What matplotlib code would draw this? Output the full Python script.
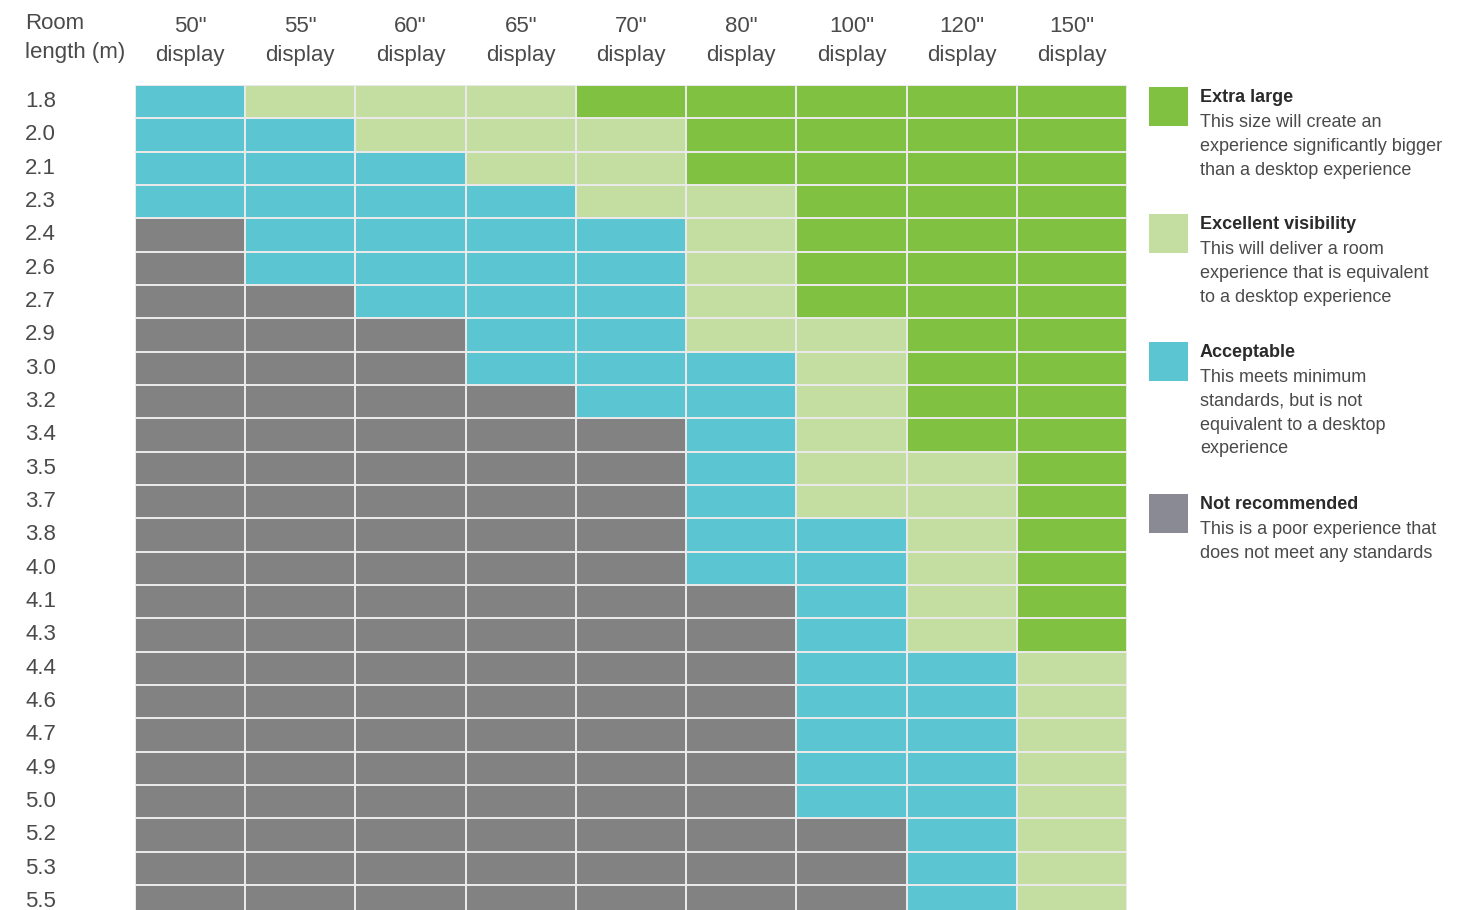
import numpy as np
import matplotlib
matplotlib.use("Agg")
import matplotlib.pyplot as plt
from matplotlib.colors import ListedColormap
from matplotlib.patches import Rectangle
from matplotlib.transforms import ScaledTranslation

# ---------------------------------------------------------------------
# Data: 0 = not recommended, 1 = acceptable, 2 = excellent, 3 = extra large
# ---------------------------------------------------------------------
room_lengths = ["1.8", "2.0", "2.1", "2.3", "2.4", "2.6", "2.7", "2.9", "3.0",
                "3.2", "3.4", "3.5", "3.7", "3.8", "4.0", "4.1", "4.3", "4.4",
                "4.6", "4.7", "4.9", "5.0", "5.2", "5.3", "5.5"]
displays = ['50"', '55"', '60"', '65"', '70"', '80"', '100"', '120"', '150"']

ratings = [
    [1, 2, 2, 2, 3, 3, 3, 3, 3],
    [1, 1, 2, 2, 2, 3, 3, 3, 3],
    [1, 1, 1, 2, 2, 3, 3, 3, 3],
    [1, 1, 1, 1, 2, 2, 3, 3, 3],
    [0, 1, 1, 1, 1, 2, 3, 3, 3],
    [0, 1, 1, 1, 1, 2, 3, 3, 3],
    [0, 0, 1, 1, 1, 2, 3, 3, 3],
    [0, 0, 0, 1, 1, 2, 2, 3, 3],
    [0, 0, 0, 1, 1, 1, 2, 3, 3],
    [0, 0, 0, 0, 1, 1, 2, 3, 3],
    [0, 0, 0, 0, 0, 1, 2, 3, 3],
    [0, 0, 0, 0, 0, 1, 2, 2, 3],
    [0, 0, 0, 0, 0, 1, 2, 2, 3],
    [0, 0, 0, 0, 0, 1, 1, 2, 3],
    [0, 0, 0, 0, 0, 1, 1, 2, 3],
    [0, 0, 0, 0, 0, 0, 1, 2, 3],
    [0, 0, 0, 0, 0, 0, 1, 2, 3],
    [0, 0, 0, 0, 0, 0, 1, 1, 2],
    [0, 0, 0, 0, 0, 0, 1, 1, 2],
    [0, 0, 0, 0, 0, 0, 1, 1, 2],
    [0, 0, 0, 0, 0, 0, 1, 1, 2],
    [0, 0, 0, 0, 0, 0, 1, 1, 2],
    [0, 0, 0, 0, 0, 0, 0, 1, 2],
    [0, 0, 0, 0, 0, 0, 0, 1, 2],
    [0, 0, 0, 0, 0, 0, 0, 1, 2],
]

legend_titles = ["Extra large", "Excellent visibility", "Acceptable", "Not recommended"]
legend_texts = [
    "This size will create an\nexperience significantly bigger\nthan a desktop experience",
    "This will deliver a room\nexperience that is equivalent\nto a desktop experience",
    "This meets minimum\nstandards, but is not\nequivalent to a desktop\nexperience",
    "This is a poor experience that\ndoes not meet any standards",
]

# ---------------------------------------------------------------------
# Style
# ---------------------------------------------------------------------
CELL_COLORS = ["#828282", "#5bc5d2", "#c3dea0", "#80c141"]
SWATCH_COLORS = ["#80c141", "#c3dea0", "#5bc5d2", "#8a8a94"]
TEXT = "#4a4a4a"
W, H = 1468, 910

plt.rcParams["font.family"] = ["Liberation Sans", "DejaVu Sans"]

fig = plt.figure(figsize=(W / 100, H / 100), dpi=100)


def fx(px):
    return px / W


def fy(py):
    return 1 - py / H


# grid axes: left 135px, right 1127px, top 85px, rows ~33.3px tall
n_rows, n_cols = len(room_lengths), len(displays)
row_h = 33.33
grid_left, grid_right, grid_top = 135, 1127, 85
ax = fig.add_axes([fx(grid_left), fy(grid_top + n_rows * row_h),
                   fx(grid_right - grid_left), n_rows * row_h / H])

data = np.array(ratings)
cmap = ListedColormap(CELL_COLORS)
ax.pcolormesh(np.arange(n_cols + 1), np.arange(n_rows + 1), data, cmap=cmap,
              vmin=-0.5, vmax=3.5, edgecolors="#e9e9e9", linewidth=1.1)
ax.set_xlim(0, n_cols)
ax.set_ylim(n_rows, 0)
for s in ax.spines.values():
    s.set_visible(False)

ax.set_yticks(np.arange(n_rows) + 0.5)
ax.set_yticklabels(room_lengths, ha="left", fontsize=16, color=TEXT)
ax.tick_params(axis="y", length=0, pad=79)
shift_up = ScaledTranslation(0, 2.5 / 100, fig.dpi_scale_trans)
for lab in ax.get_yticklabels():
    lab.set_transform(lab.get_transform() + shift_up)

ax.xaxis.tick_top()
ax.set_xticks(np.arange(n_cols) + 0.5)
ax.set_xticklabels([f"{d}\ndisplay" for d in displays], fontsize=16,
                   color=TEXT, linespacing=1.45)
ax.tick_params(axis="x", length=0, pad=14)

fig.text(fx(25), fy(13), "Room\nlength (m)", ha="left", va="top",
         fontsize=16, color=TEXT, linespacing=1.5)

# legend
swatch_tops = [87, 214, 342, 494]
for top, col, title, body in zip(swatch_tops, SWATCH_COLORS, legend_titles, legend_texts):
    fig.patches.append(Rectangle((fx(1149), fy(top + 39)), fx(39), 39 / H,
                                 transform=fig.transFigure, facecolor=col,
                                 edgecolor="none"))
    fig.text(fx(1200), fy(top + 2), title, ha="left", va="top", fontsize=13,
             fontweight="bold", color="#2a2a2a")
    fig.text(fx(1200), fy(top + 27), body, ha="left", va="top", fontsize=13,
             color=TEXT, linespacing=1.52)

fig.savefig("out.png", dpi=100)
